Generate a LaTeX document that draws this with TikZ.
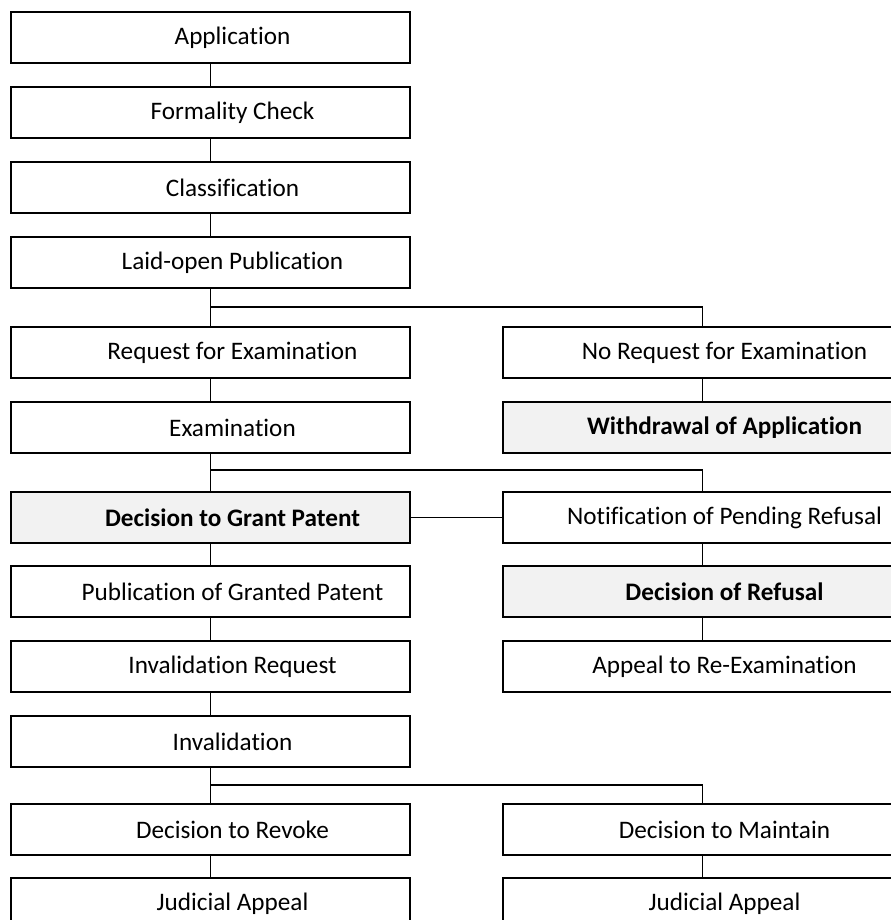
\documentclass[tikz,border=0pt]{standalone}
\usepackage{fontspec}
\setmainfont{Carlito}[Ligatures=NoCommon]
\definecolor{boxgray}{HTML}{F2F2F2}
\tikzset{box/.style={draw=black, line width=1.1pt, minimum width=299pt, minimum height=38pt,
   inner sep=0pt, font=\fontsize{18.9}{22}\selectfont, execute at begin node=\hspace*{33pt}},
 keybox/.style={box, fill=boxgray, font=\fontsize{18.9}{22}\selectfont\bfseries},
 link/.style={draw, line width=0.9pt},
 }

\begin{document}
\begin{tikzpicture}[x=0.75pt, y=-0.75pt]
        \useasboundingbox (0,0) rectangle (891,920);
        \clip (0,0) rectangle (891,920);
        \node[box] (app) at (210.5, 37.5) {Application};
        \node[box] (form) at (210.5, 112.5) {Formality Check};
        \node[box] (class) at (210.5, 187.5) {Classification};
        \node[box] (laid) at (210.5, 262.5) {Laid-open Publication};
        \node[box] (req) at (210.5, 352.5) {Request for Examination};
        \node[box] (noreq) at (702.5, 352.5) {No Request for Examination};
        \node[box] (exam) at (210.5, 427.5) {Examination};
        \node[keybox] (withdraw) at (702.5, 427.5) {Withdrawal of Application};
        \node[keybox] (grant) at (210.5, 517.5) {Decision to Grant Patent};
        \node[box] (notify) at (702.5, 517.5) {Notification of Pending Refusal};
        \node[box] (pubgrant) at (210.5, 591.5) {Publication of Granted Patent};
        \node[keybox] (refuse) at (702.5, 591.5) {Decision of Refusal};
        \node[box] (invreq) at (210.5, 666.5) {Invalidation Request};
        \node[box] (reexam) at (702.5, 666.5) {Appeal to Re-Examination};
        \node[box] (inval) at (210.5, 741.5) {Invalidation};
        \node[box] (revoke) at (210.5, 829.5) {Decision to Revoke};
        \node[box] (maintain) at (702.5, 829.5) {Decision to Maintain};
        \node[box] (judl) at (210.5, 903.5) {Judicial Appeal};
        \node[box] (judr) at (702.5, 903.5) {Judicial Appeal};
        \coordinate (fork1) at (210.5, 307);
        \coordinate (fork2) at (210.5, 470);
        \coordinate (fork3) at (210.5, 785);
        \draw[link] (app) -- (form);
        \draw[link] (form) -- (class);
        \draw[link] (class) -- (laid);
        \draw[link] (laid) -- (req);
        \draw[link] (fork1) -| (noreq);
        \draw[link] (noreq) -- (withdraw);
        \draw[link] (req) -- (exam);
        \draw[link] (exam) -- (grant);
        \draw[link] (fork2) -| (notify);
        \draw[link] (grant) -- (notify);
        \draw[link] (notify) -- (refuse);
        \draw[link] (refuse) -- (reexam);
        \draw[link] (grant) -- (pubgrant);
        \draw[link] (pubgrant) -- (invreq);
        \draw[link] (invreq) -- (inval);
        \draw[link] (inval) -- (revoke);
        \draw[link] (fork3) -| (maintain);
        \draw[link] (revoke) -- (judl);
        \draw[link] (maintain) -- (judr);
    \end{tikzpicture}
\end{document}
